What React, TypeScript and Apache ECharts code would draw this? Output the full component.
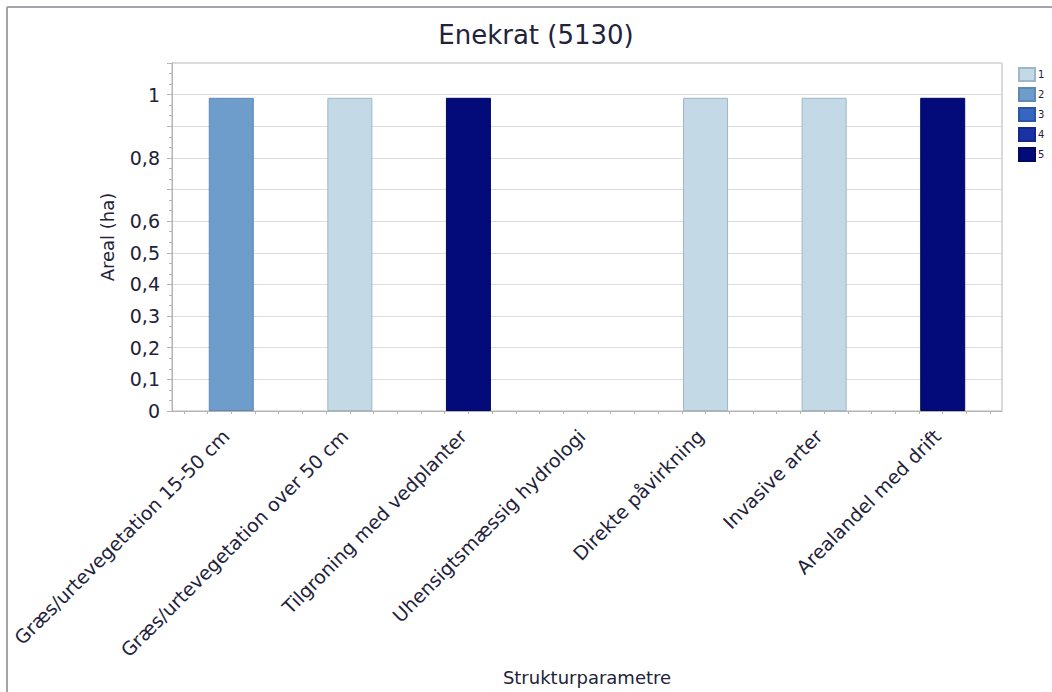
import React, { useEffect, useRef } from "react";
import * as echarts from "echarts";

const categories = [
  "Græs/urtevegetation 15-50 cm",
  "Græs/urtevegetation over 50 cm",
  "Tilgroning med vedplanter",
  "Uhensigtsmæssig hydrologi",
  "Direkte påvirkning",
  "Invasive arter",
  "Arealandel med drift",
];
const seriesNames = ["1", "2", "3", "4", "5"];
const s1 = [null, 0.99, null, null, 0.99, 0.99, null];
const s2 = [0.99, null, null, null, null, null, null];
const s3 = [null, null, null, null, null, null, null];
const s4 = [null, null, null, null, null, null, null];
const s5 = [null, null, 0.99, null, null, null, 0.99];
const seriesData = [s1, s2, s3, s4, s5];
const colors = ["#C4D9E6", "#6E9DCB", "#3566C2", "#1A32A4", "#030B7A"];
const borders = ["#9DB6C8", "#5F89B3", "#2C55A6", "#14288A", "#020860"];
const hiddenYLabels = [0.7, 0.9];

const FONT = "'DejaVu Sans', Verdana, sans-serif";
const TXT = "#22223a";

export default function App() {
  const ref = useRef<HTMLDivElement>(null);
  useEffect(() => {
    document.body.style.margin = "0";
    const chart = echarts.init(ref.current!, null, { renderer: "svg" });
    chart.setOption({
      animation: false,
      textStyle: { fontFamily: FONT },
      title: {
        text: "Enekrat (5130)",
        left: 531,
        top: 17,
        textAlign: "center",
        textStyle: { fontFamily: FONT, fontSize: 26, fontWeight: "normal", color: TXT },
      },
      legend: {
        orient: "vertical",
        left: 1013,
        top: 62,
        itemWidth: 16,
        itemHeight: 13,
        itemGap: 5,
        icon: "rect",
        data: seriesNames,
        textStyle: { fontFamily: FONT, fontSize: 10, color: TXT, padding: [0, 0, 0, -2] },
      },
      graphic: [
        { type: "line", shape: { x1: 7, y1: 7, x2: 1052, y2: 7 }, style: { stroke: "#a3a3ab", lineWidth: 2 } },
        { type: "line", shape: { x1: 7, y1: 7, x2: 7, y2: 692 }, style: { stroke: "#a3a3ab", lineWidth: 2 } },
      ],
      grid: {
        left: 172,
        top: 63,
        right: 50,
        bottom: 281,
        outerBoundsMode: "none",
        containLabel: false,
        show: true,
        borderColor: "#b4b4b4",
        borderWidth: 1,
        backgroundColor: "#fff",
      },
      xAxis: [
        {
          type: "category",
          data: categories,
          name: "Strukturparametre",
          nameLocation: "middle",
          nameGap: 257,
          nameTextStyle: { fontFamily: FONT, fontSize: 18, color: TXT },
          axisLine: { lineStyle: { color: "#b4b4b4" } },
          axisTick: { alignWithLabel: true, length: 6, lineStyle: { color: "#b4b4b4" } },
          axisLabel: {
            rotate: 45,
            margin: 3,
            interval: 0,
            verticalAlign: "top",
            padding: [0, 17, 0, 0],
            fontFamily: FONT,
            fontSize: 19,
            color: TXT,
          },
          splitLine: { show: false },
        },
        {
          type: "value",
          min: 0,
          max: 70,
          interval: 2,
          position: "bottom",
          axisLine: { show: false },
          axisLabel: { show: false },
          axisTick: { show: false },
          splitLine: { show: false },
          minorTick: { show: true, splitNumber: 2, length: 3, lineStyle: { color: "#b4b4b4" } },
          minorSplitLine: { show: false },
        },
      ],
      yAxis: {
        type: "value",
        min: 0,
        max: 1.1,
        interval: 0.1,
        name: "Areal (ha)",
        nameLocation: "middle",
        nameGap: 56,
        nameTextStyle: { fontFamily: FONT, fontSize: 18, color: TXT },
        axisLine: { show: true, lineStyle: { color: "#b4b4b4" } },
        axisTick: { show: true, length: 5, lineStyle: { color: "#b4b4b4" } },
        minorTick: { show: true, splitNumber: 3, length: 3, lineStyle: { color: "#b4b4b4" } },
        axisLabel: {
          margin: 12,
          fontFamily: FONT,
          fontSize: 19,
          color: TXT,
          formatter: (v: number) => {
            const r = Math.round(v * 10) / 10;
            if (r > 1.05) return "";
            if (hiddenYLabels.some((h) => Math.abs(h - r) < 1e-6)) return "";
            return String(r).replace(".", ",");
          },
        },
        splitLine: { lineStyle: { color: "#dcdcdc" } },
      },
      series: seriesNames.map((name, i) => ({
        name,
        type: "bar",
        stack: "total",
        xAxisIndex: 0,
        barWidth: 45,
        data: seriesData[i],
        itemStyle: { color: colors[i], borderColor: borders[i], borderWidth: 1 },
      })),
    });
    return () => chart.dispose();
  }, []);
  return (
    <div
      ref={ref}
      style={{ position: "absolute", left: 0, top: 0, width: 1052, height: 692, background: "#fff" }}
    />
  );
}
